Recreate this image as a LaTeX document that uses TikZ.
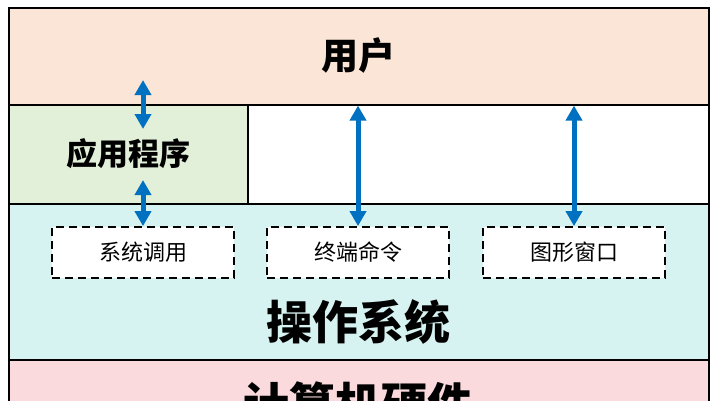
\documentclass[tikz,border=0pt]{standalone}
\usepackage{fontspec}
\newfontfamily\cjk{Noto Sans CJK SC}
\usetikzlibrary{arrows.meta}

\definecolor{userbg}{RGB}{251,229,214}
\definecolor{appbg}{RGB}{226,240,217}
\definecolor{osbg}{RGB}{214,242,241}
\definecolor{hwbg}{RGB}{251,218,222}
\definecolor{linkblue}{RGB}{0,112,192}

\tikzset{
  layer/.style={draw, line width=1.6pt, anchor=north west, inner sep=0pt},
  callbox/.style={draw, dash pattern=on 8pt off 5pt, line width=1.8pt, fill=white,
    minimum width=182pt, minimum height=51pt, inner sep=0pt,
    font=\cjk\fontsize{22}{24}\selectfont},
  title/.style={font=\cjk\bfseries, inner sep=0pt},
  link/.style={linkblue, line width=5pt,
    {Triangle[length=15pt,width=16pt]}-{Triangle[length=15pt,width=16pt]}}
}

\begin{document}
\begin{tikzpicture}[x=1pt,y=-1pt]
    \useasboundingbox (0,0) rectangle (718,400);
    \clip (0,0) rectangle (718,400);

    % layers
    \node[layer, fill=userbg, minimum width=700pt, minimum height=97pt] (user) at (8,7) {};
    \node[layer, fill=appbg, minimum width=239pt, minimum height=99pt] (app) at (8,104) {};
    \node[layer, fill=white, minimum width=461pt, minimum height=99pt] (blank) at (247,104) {};
    \node[layer, fill=osbg, minimum width=700pt, minimum height=156pt] (os) at (8,203) {};
    \node[layer, fill=hwbg, minimum width=700pt, minimum height=80pt] (hw) at (8,359) {};

    % titles
    \node[title, font=\cjk\bfseries\fontsize{37}{40}\selectfont] (usertext) at (358,55) {用户};
    \node[title, font=\cjk\bfseries\fontsize{31}{34}\selectfont] (apptext) at (128,154) {应用程序};
    \node[title, font=\cjk\bfseries\fontsize{46}{50}\selectfont] (ostext) at (358,322) {操作系统};
    \node[title, font=\cjk\bfseries\fontsize{46}{50}\selectfont] (hwtext) at (358,404) {计算机硬件};

    % interfaces
    \node[callbox] (syscall) at (143,252.5) {系统调用};
    \node[callbox] (terminal) at (358,252.5) {终端命令};
    \node[callbox] (gui) at (574,252.5) {图形窗口};

    \coordinate (a1) at (143,80);
    \coordinate (a2) at (143,129);
    \coordinate (a3) at (143,180);

    \draw[link] (a1) -- (a2);
    \draw[link] (a3) -- (syscall.north);
    \draw[link] (user.south -| terminal.north) -- (terminal.north);
    \draw[link] (user.south -| gui.north) -- (gui.north);
\end{tikzpicture}
\end{document}
